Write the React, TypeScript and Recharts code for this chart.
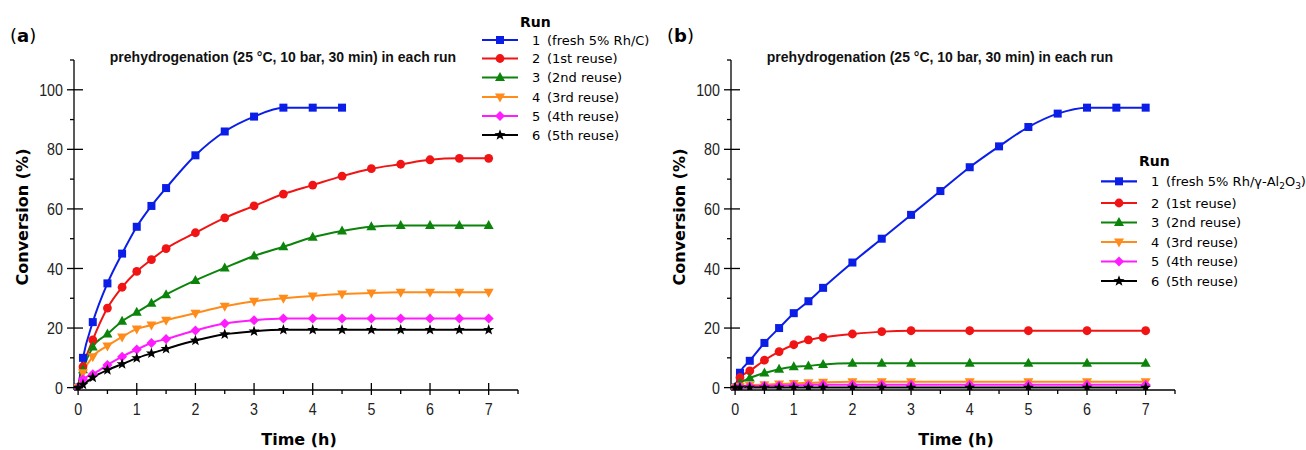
import React from 'react';
import { LineChart, Line, XAxis, YAxis } from 'recharts';

// ---------- data ----------
const timesFull = [0, 0.083, 0.25, 0.5, 0.75, 1, 1.25, 1.5, 2, 2.5, 3, 3.5, 4, 4.5, 5, 5.5, 6, 6.5, 7];
const timesB = [0, 0.083, 0.25, 0.5, 0.75, 1, 1.25, 1.5, 2, 2.5, 3, 4, 5, 6, 7];

// Panel (a): fresh 5% Rh/C and reuses
const run1A = [0, 10, 22, 35, 45, 54, 61, 67, 78, 86, 91, 94, 94, 94];
const run2A = [0, 7, 16, 26.7, 33.7, 39, 43, 46.7, 52, 57, 61, 65, 68, 71, 73.5, 75, 76.5, 77, 77];
const run3A = [0, 6, 13.6, 18, 22.3, 25.3, 28.3, 31.2, 36, 40.2, 44.2, 47.3, 50.5, 52.6, 54, 54.4, 54.4, 54.4, 54.4];
const run4A = [0, 5, 10.4, 14, 17, 19.7, 21, 22.6, 25, 27.3, 29, 30, 30.8, 31.4, 31.8, 32, 32, 32, 32];
const run5A = [0, 2.8, 4.5, 7.6, 10.4, 12.8, 15, 16.3, 19.2, 21.5, 22.6, 23.2, 23.2, 23.2, 23.2, 23.2, 23.2, 23.2, 23.2];
const run6A = [0, 1, 3.4, 5.9, 7.9, 9.9, 11.5, 13, 15.8, 17.9, 18.9, 19.4, 19.4, 19.4, 19.4, 19.4, 19.4, 19.4, 19.4];

// Panel (b): fresh 5% Rh/γ-Al2O3 and reuses
const run1B = [0, 5, 9, 15, 20, 25, 29, 33.5, 42, 50, 58, 66, 74, 81, 87.5, 92, 94, 94, 94];
const run2B = [0, 3.4, 5.6, 9.2, 12.1, 14.4, 16, 16.9, 18, 18.8, 19.1, 19.1, 19.1, 19.1, 19.1];
const run3B = [0, 1.5, 3.2, 4.9, 6.2, 7, 7.3, 7.8, 8.2, 8.2, 8.2, 8.2, 8.2, 8.2, 8.2];
const run4B = [0, 0.5, 0.8, 1, 1.2, 1.4, 1.6, 1.8, 2, 2, 2, 2, 2, 2, 2];
const run5B = [0, 0.3, 0.5, 0.6, 0.7, 0.8, 0.9, 1, 1, 1, 1, 1, 1, 1, 1];
const run6B = [0, 0, 0, 0, 0, 0, 0, 0, 0, 0, 0, 0, 0, 0, 0];

const runNumbers = ['1', '2', '3', '4', '5', '6'];
const reuseLabels = ['(1st reuse)', '(2nd reuse)', '(3rd reuse)', '(4th reuse)', '(5th reuse)'];

const xTicks = [0, 0.5, 1, 1.5, 2, 2.5, 3, 3.5, 4, 4.5, 5, 5.5, 6, 6.5, 7, 7.5];
const yTicks = [0, 10, 20, 30, 40, 50, 60, 70, 80, 90, 100, 110];

const colors = ['#0b1ee8', '#f01414', '#0c840c', '#ff8c1a', '#ff1cff', '#000000'];
const shapes = ['square', 'circle', 'up', 'down', 'diamond', 'star'];

const TICK_FONT = "'Liberation Sans', Arial, sans-serif";
const LEG_FONT = "'DejaVu Sans', Verdana, sans-serif";

// ---------- helpers ----------
const toPoints = (times: number[], values: number[]) => values.map((v, i) => ({ t: times[i], v }));

function Marker({ shape, cx, cy, color }: { shape: string; cx: number; cy: number; color: string }) {
  if (cx == null || cy == null || isNaN(cx) || isNaN(cy)) return null;
  switch (shape) {
    case 'square':
      return <rect x={cx - 4} y={cy - 4} width={8} height={8} fill={color} />;
    case 'circle':
      return <circle cx={cx} cy={cy} r={4.4} fill={color} />;
    case 'up':
      return <polygon points={`${cx},${cy - 5.5} ${cx + 5},${cy + 3.5} ${cx - 5},${cy + 3.5}`} fill={color} />;
    case 'down':
      return <polygon points={`${cx - 5},${cy - 3.5} ${cx + 5},${cy - 3.5} ${cx},${cy + 5.5}`} fill={color} />;
    case 'diamond':
      return <polygon points={`${cx},${cy - 5} ${cx + 5},${cy} ${cx},${cy + 5} ${cx - 5},${cy}`} fill={color} />;
    case 'star': {
      const pts: string[] = [];
      for (let i = 0; i < 10; i++) {
        const r = i % 2 === 0 ? 5.8 : 2.4;
        const a = -Math.PI / 2 + (i * Math.PI) / 5;
        pts.push(`${cx + r * Math.cos(a)},${cy + r * Math.sin(a)}`);
      }
      return <polygon points={pts.join(' ')} fill={color} />;
    }
    default:
      return null;
  }
}

const X_TICK_SIZE = 5;
const X_TICK_MARGIN = 8;
const Y_TICK_SIZE = 7;
const Y_TICK_MARGIN = 4;
const SQUEEZE = 0.84;

const XTick = (props: any) => {
  const { x, y, payload } = props;
  const v = payload.value as number;
  const ay = y - X_TICK_SIZE - X_TICK_MARGIN;
  const major = Math.abs(v - Math.round(v)) < 1e-6;
  return (
    <g>
      {major ? (
        <line x1={x} x2={x} y1={ay - 7} y2={ay + 5} stroke="#000" strokeWidth={1.3} />
      ) : (
        <line x1={x} x2={x} y1={ay} y2={ay + 4} stroke="#000" strokeWidth={1.3} />
      )}
      {major && (
        <g transform={`translate(${x},${y}) scale(${SQUEEZE},1)`}>
          <text x={0} y={0} dy="0.71em" textAnchor="middle" fontFamily={TICK_FONT} fontSize={17} fill="#222">
            {v}
          </text>
        </g>
      )}
    </g>
  );
};

const YTick = (props: any) => {
  const { x, y, payload } = props;
  const v = payload.value as number;
  const ax = x + Y_TICK_SIZE + Y_TICK_MARGIN;
  const major = v % 20 === 0 && v <= 100;
  return (
    <g>
      {major ? (
        <line x1={ax - 7} x2={ax + 9} y1={y} y2={y} stroke="#000" strokeWidth={1.3} />
      ) : (
        <line x1={ax - 4} x2={ax} y1={y} y2={y} stroke="#000" strokeWidth={1.3} />
      )}
      {major && (
        <g transform={`translate(${x},${y}) scale(${SQUEEZE},1)`}>
          <text x={0} y={0} dy="0.36em" textAnchor="end" fontFamily={TICK_FONT} fontSize={17} fill="#222">
            {v}
          </text>
        </g>
      )}
    </g>
  );
};

type Run = { times: number[]; values: number[] };

function Panel({ runs, left }: { runs: Run[]; left: number }) {
  return (
    <div style={{ position: 'absolute', left, top: 0 }}>
      <LineChart width={657} height={450} margin={{ top: 60, right: 139, bottom: 20, left: 24 }}>
        <XAxis
          type="number"
          dataKey="t"
          domain={[-0.07, 7.5]}
          ticks={xTicks}
          interval={0}
          height={40}
          tickSize={X_TICK_SIZE}
          tickMargin={X_TICK_MARGIN}
          tickLine={false}
          tick={XTick}
          axisLine={{ stroke: '#000', strokeWidth: 1.3 }}
          allowDataOverflow
        />
        <YAxis
          type="number"
          domain={[-0.8, 110]}
          ticks={yTicks}
          interval={0}
          width={50}
          tickSize={Y_TICK_SIZE}
          tickMargin={Y_TICK_MARGIN}
          tickLine={false}
          tick={YTick}
          axisLine={{ stroke: '#000', strokeWidth: 1.3 }}
          allowDataOverflow
        />
        {runs.map((r, i) => (
          <Line
            key={i}
            data={toPoints(r.times, r.values)}
            dataKey="v"
            type="monotone"
            stroke={colors[i]}
            strokeWidth={2}
            isAnimationActive={false}
            dot={(p: any) => <Marker key={`d${i}-${p.index}`} shape={shapes[i]} cx={p.cx} cy={p.cy} color={colors[i]} />}
            activeDot={false}
          />
        ))}
      </LineChart>
    </div>
  );
}

function LegendBlock({
  x, runY, rows, first,
}: { x: number; runY: number; rows: number[]; first: React.ReactNode }) {
  return (
    <g>
      <text x={x + 38} y={runY} fontFamily={LEG_FONT} fontWeight="bold" fontSize={14} fill="#000">Run</text>
      {rows.map((cy, i) => (
        <g key={i}>
          <line x1={x} x2={x + 36} y1={cy} y2={cy} stroke={colors[i]} strokeWidth={2.2} />
          <Marker shape={shapes[i]} cx={x + 18} cy={cy} color={colors[i]} />
          <text x={x + 50} y={cy + 4.5} fontFamily={LEG_FONT} fontSize={13} fill="#000">{runNumbers[i]}</text>
          <text x={x + 65} y={cy + 4.5} fontFamily={LEG_FONT} fontSize={13} fill="#000">
            {i === 0 ? first : reuseLabels[i - 1]}
          </text>
        </g>
      ))}
    </g>
  );
}

const TITLE = 'prehydrogenation (25 °C, 10 bar, 30 min) in each run';

function Annotations() {
  const panelTexts = (off: number, letter: string) => (
    <g>
      <text x={off + 10} y={41.5} fontFamily={LEG_FONT} fontSize={18} fill="#000">
        (<tspan fontWeight="bold">{letter}</tspan>)
      </text>
      <text x={off + 283} y={62} textAnchor="middle" fontFamily="'Liberation Sans', Arial, sans-serif" fontWeight="bold" fontSize={14} fill="#111">
        {TITLE}
      </text>
      <text transform={`translate(${off + 22},217) rotate(-90)`} textAnchor="middle" dy="0.36em" fontFamily={LEG_FONT} fontWeight="bold" fontSize={16} fill="#000">
        Conversion (%)
      </text>
      <text x={off + 299} y={445} textAnchor="middle" fontFamily={LEG_FONT} fontWeight="bold" fontSize={16} fill="#000">
        Time (h)
      </text>
    </g>
  );
  return (
    <svg width={1306} height={450} style={{ position: 'absolute', left: 0, top: 0, pointerEvents: 'none' }}>
      {panelTexts(0, 'a')}
      {panelTexts(657, 'b')}
      <LegendBlock x={482} runY={27} rows={[40, 58.5, 77.5, 97, 116, 135]} first="(fresh 5% Rh/C)" />
      <LegendBlock
        x={1101}
        runY={166}
        rows={[181.3, 203, 222.5, 242, 261.5, 281]}
        first={
          <>
            (fresh 5% Rh/γ-Al
            <tspan fontSize={9} dy={3}>2</tspan>
            <tspan dy={-3}>O</tspan>
            <tspan fontSize={9} dy={3}>3</tspan>
            <tspan dy={-3}>)</tspan>
          </>
        }
      />
    </svg>
  );
}

export default function App() {
  const runsA: Run[] = [
    { times: timesFull, values: run1A },
    { times: timesFull, values: run2A },
    { times: timesFull, values: run3A },
    { times: timesFull, values: run4A },
    { times: timesFull, values: run5A },
    { times: timesFull, values: run6A },
  ];
  const runsB: Run[] = [
    { times: timesFull, values: run1B },
    { times: timesB, values: run2B },
    { times: timesB, values: run3B },
    { times: timesB, values: run4B },
    { times: timesB, values: run5B },
    { times: timesB, values: run6B },
  ];
  return (
    <div style={{ position: 'absolute', left: 0, top: 0, width: 1306, height: 450, background: '#fff', overflow: 'hidden' }}>
      <Panel runs={runsA} left={0} />
      <Panel runs={runsB} left={657} />
      <Annotations />
    </div>
  );
}
